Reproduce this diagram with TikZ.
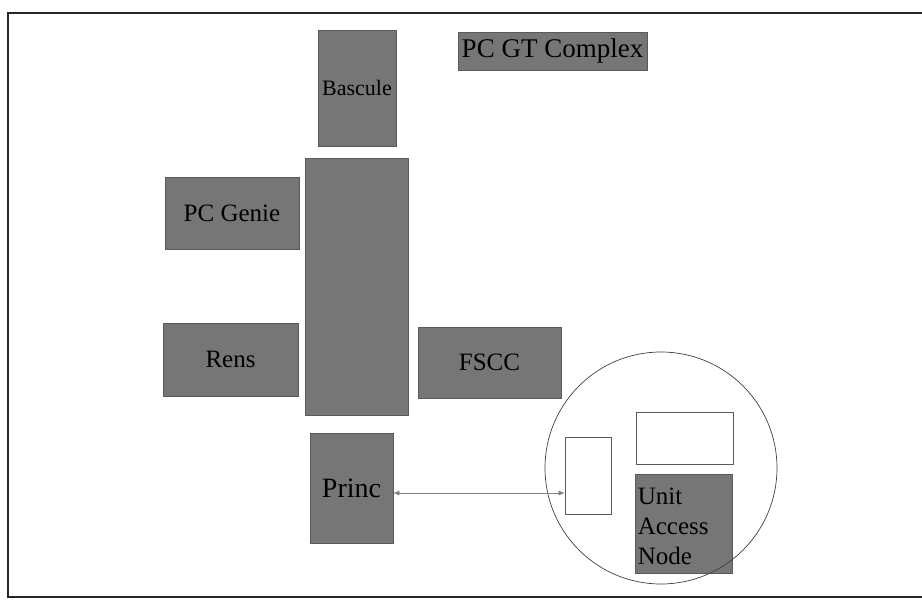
\documentclass[tikz,border=0pt]{standalone}
\usepackage{fontspec}
\setmainfont{Liberation Serif}
\usetikzlibrary{arrows.meta}
\definecolor{boxgray}{RGB}{118,118,118}
\definecolor{edgegray}{RGB}{90,90,90}
\newcommand{\fs}[1]{\fontsize{#1}{#1}\selectfont}
\begin{document}
\begin{tikzpicture}[x=1pt, y=-1pt, inner sep=0pt,
   unit/.style={rectangle, fill=boxgray, draw=edgegray, line width=.6pt, font=\fs{25}},
   slot/.style={rectangle, draw=edgegray, line width=.7pt},
   link/.style={{Latex[length=6pt,width=5pt]}-{Latex[length=6pt,width=5pt]}, draw=gray, line width=.5pt}]
      \useasboundingbox (0,0) rectangle (922,600);
      \draw[line width=2pt, black!85] (922,13) -- (8,13) -- (8,597) -- (922,597);
      \node[unit, minimum width=78, minimum height=116, font=\fs{22}] (B) at (357,88) {Bascule};
      \node[unit, minimum width=189, minimum height=38, font=\fs{27}] (GT) at (552.5,51) {PC GT Complex};
      \node[unit, minimum width=103, minimum height=257] (C) at (356.5,286.5) {};
      \node[unit, minimum width=134, minimum height=72] (G) at (232,213) {PC Genie};
      \node[unit, minimum width=135, minimum height=73] (R) at (230.5,359.5) {Rens};
      \node[unit, minimum width=143, minimum height=71] (F) at (489.5,362.5) {FSCC};
      \node[unit, minimum width=83, minimum height=110, font=\fs{28}] (P) at (351.5,488) {Princ};
      \node[slot, minimum width=46, minimum height=77] (S1) at (588,475.5) {};
      \node[slot, minimum width=97, minimum height=52] (S2) at (684.5,438) {};
      \node[unit, minimum width=97, minimum height=99, align=left, anchor=north west,
         text width=92pt, font=\fontsize{25}{30}\selectfont]
         (U) at (635,474) {\rule{0pt}{22pt}Unit\\Access\\Node};
      \node[circle, draw=black!75, line width=.7pt, minimum size=232] (Z) at (661,468) {};
      \draw[link] ([yshift=-5pt]P.east) -- ([yshift=-5pt]P.east -| S1.west);
   \end{tikzpicture}
\end{document}
